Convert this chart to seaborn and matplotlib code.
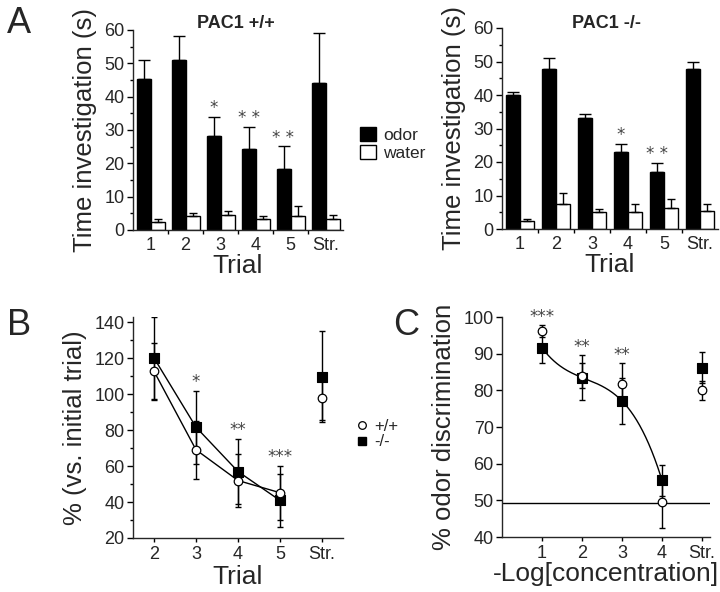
import numpy as np
import pandas as pd
import seaborn as sns
import matplotlib.pyplot as plt
from matplotlib.patches import Patch
from matplotlib.lines import Line2D
from matplotlib.ticker import MultipleLocator, FixedLocator

# ---- data ----
trials_a = ["1", "2", "3", "4", "5", "Str."]
stims = ["odor", "water"]

wt_odor = [45.2, 51.0, 28.2, 24.2, 18.2, 44.2]
wt_odor_err = [5.8, 7.2, 5.8, 6.8, 7.0, 14.8]
wt_water = [2.5, 4.2, 4.5, 3.2, 4.2, 3.2]
wt_water_err = [0.7, 0.8, 1.3, 1.0, 3.0, 1.3]
wt_stars = ["", "", "*", "* *", "* *", ""]

ko_odor = [40.1, 47.9, 33.1, 23.0, 17.0, 47.9]
ko_odor_err = [0.8, 3.0, 1.2, 2.5, 2.8, 2.1]
ko_water = [2.3, 7.6, 5.0, 5.0, 6.3, 5.5]
ko_water_err = [0.8, 3.0, 1.1, 2.6, 2.8, 2.0]
ko_stars = ["", "", "", "*", "* *", ""]

trials_b = ["2", "3", "4", "5", "Str."]
b_wt = [112.8, 69.1, 52.0, 45.2, 98.0]
b_wt_err = [16.0, 16.0, 15.0, 15.0, 12.5]
b_ko = [120.2, 81.7, 57.0, 40.9, 109.8]
b_ko_err = [23.0, 20.3, 18.2, 14.8, 25.2]
b_stars = ["", "*", "**", "***", ""]

conc_labels = ["1", "2", "3", "4", "Str."]
c_wt = [96.2, 84.0, 81.7, 49.5, 80.0]
c_wt_err = [1.6, 3.4, 5.7, 7.0, 2.6]
c_ko = [91.6, 83.5, 77.1, 55.5, 86.2]
c_ko_err = [4.1, 6.2, 6.4, 4.2, 4.2]
c_stars = ["***", "**", "**", "", ""]
chance_level = 49.3

# ---- style ----
sns.set_style("ticks")
plt.rcParams["font.family"] = ["Liberation Sans", "DejaVu Sans"]
plt.rcParams["axes.linewidth"] = 1.0
YLABEL_SIZE = 18.5
XLABEL_SIZE = 19
TICK_SIZE = 13
STAR_KW = dict(family="DejaVu Sans", fontsize=12, color="#444444", ha="center", va="baseline")

fig = plt.figure(figsize=(7.2, 5.92), dpi=100)
W, H = 720.0, 592.0


def px_axes(left, top, right, bottom):
    return fig.add_axes([left / W, 1 - bottom / H, (right - left) / W, (bottom - top) / H])


def style_axes(ax):
    sns.despine(ax=ax)
    ax.tick_params(axis="both", which="major", labelsize=TICK_SIZE, length=4, width=1,
                   color="black", pad=2)
    ax.tick_params(axis="both", which="minor", length=2, width=1, color="black")


def bar_panel(ax, odor, odor_err, water, water_err, stars, title, title_x):
    df = pd.DataFrame({
        "trial": trials_a * 2,
        "stim": ["odor"] * len(trials_a) + ["water"] * len(trials_a),
        "time": odor + water,
    })
    sns.barplot(data=df, x="trial", y="time", hue="stim", order=trials_a, hue_order=stims,
                palette={"odor": "black", "water": "white"}, edgecolor="black",
                linewidth=1, saturation=1, errorbar=None, legend=False, ax=ax)
    for cont, errs, cap in zip(ax.containers, [odor_err, water_err], [4.3, 2.6]):
        for bar, e in zip(cont, errs):
            x = bar.get_x() + bar.get_width() / 2
            y = bar.get_height()
            ax.errorbar(x, y, yerr=[[0], [e]], fmt="none", ecolor="black",
                        elinewidth=1, capsize=cap, capthick=1, zorder=1)
    for bar, e, s in zip(ax.containers[0], odor_err, stars):
        if s:
            ax.annotate(s, (bar.get_x() + bar.get_width() / 2, bar.get_height() + e),
                        xytext=(0, 2.5), textcoords="offset points", **STAR_KW)
    ax.set_ylim(0, 60)
    ax.set_xlim(-0.5, len(trials_a) - 0.5)
    ax.yaxis.set_major_locator(MultipleLocator(10))
    ax.yaxis.set_minor_locator(MultipleLocator(5))
    ax.xaxis.set_minor_locator(FixedLocator(np.arange(len(trials_a) - 1) + 0.5))
    style_axes(ax)
    ax.tick_params(axis="x", which="major", length=0, pad=5)
    ax.tick_params(axis="x", which="minor", length=3)
    ax.set_xlabel("Trial", labelpad=0, fontsize=XLABEL_SIZE)
    ax.set_ylabel("Time investigation (s)", labelpad=5, fontsize=YLABEL_SIZE)
    fig.text(title_x / W, 1 - 28 / H, title, ha="center", va="baseline",
             fontsize=13, fontweight="bold")


ax_a1 = px_axes(133, 30, 343, 230)
bar_panel(ax_a1, wt_odor, wt_odor_err, wt_water, wt_water_err, wt_stars, "PAC1 +/+", 236)
ax_a2 = px_axes(502, 28, 718, 229)
bar_panel(ax_a2, ko_odor, ko_odor_err, ko_water, ko_water_err, ko_stars, "PAC1 -/-", 607)

fig.legend(handles=[Patch(facecolor="black", edgecolor="black", lw=1),
                    Patch(facecolor="white", edgecolor="black", lw=1)],
           labels=stims, loc="upper left", bbox_to_anchor=(360 / W, 1 - 127 / H),
           frameon=False, fontsize=12.5, handlelength=0.9, handleheight=0.9,
           handletextpad=0.45, labelspacing=0.1, borderpad=0, borderaxespad=0)


def point_panel(ax, x, wt, wt_err, ko, ko_err):
    ax.errorbar(x, ko, yerr=ko_err, fmt="none", ecolor="black", elinewidth=1,
                capsize=2.2, capthick=1, zorder=2)
    ax.errorbar(x, wt, yerr=wt_err, fmt="none", ecolor="black", elinewidth=1,
                capsize=2.2, capthick=1, zorder=2)
    sns.scatterplot(x=x, y=ko, marker="s", s=42, color="black", edgecolor="black",
                    linewidth=0.8, zorder=4, ax=ax)
    sns.scatterplot(x=x, y=wt, marker="o", s=38, color="white", edgecolor="black",
                    linewidth=0.9, zorder=5, ax=ax)


# ---- panel B ----
ax_b = px_axes(133, 317, 343, 538)
xb = np.arange(len(trials_b))
sns.lineplot(x=xb[:4], y=b_wt[:4], color="black", lw=1, ax=ax_b, zorder=3)
sns.lineplot(x=xb[:4], y=b_ko[:4], color="black", lw=1, ax=ax_b, zorder=3)
point_panel(ax_b, xb, b_wt, b_wt_err, b_ko, b_ko_err)
for xi, s, a, ea, b, eb in zip(xb, b_stars, b_wt, b_wt_err, b_ko, b_ko_err):
    if s:
        ax_b.annotate(s, (xi, max(a + ea, b + eb)), xytext=(0, 3),
                      textcoords="offset points", **STAR_KW)
ax_b.set_xlim(-0.5, len(trials_b) - 0.5)
ax_b.set_ylim(20, 143)
ax_b.set_xticks(xb, trials_b)
ax_b.yaxis.set_major_locator(FixedLocator(np.arange(20, 141, 20)))
ax_b.yaxis.set_minor_locator(FixedLocator(np.arange(30, 141, 20)))
style_axes(ax_b)
ax_b.tick_params(axis="x", which="major", length=3, pad=3)
ax_b.set_xlabel("Trial", labelpad=1, fontsize=XLABEL_SIZE)
ax_b.set_ylabel("% (vs. initial trial)", labelpad=5, fontsize=YLABEL_SIZE)

# ---- panel C ----
ax_c = px_axes(502, 317, 710, 537)
xc = np.arange(1, len(conc_labels) + 1)
ax_c.axhline(chance_level, color="black", lw=1, zorder=1)
# smooth fit through the -/- dilution series
coef = np.polyfit(xc[:4], c_ko[:4], 3)
xfit = np.linspace(xc[0], xc[3], 200)
sns.lineplot(x=xfit, y=np.polyval(coef, xfit), color="black", lw=1, ax=ax_c, zorder=3)
point_panel(ax_c, xc, c_wt, c_wt_err, c_ko, c_ko_err)
for xi, s, a, ea, b, eb in zip(xc, c_stars, c_wt, c_wt_err, c_ko, c_ko_err):
    if s:
        ax_c.annotate(s, (xi, max(a + ea, b + eb)), xytext=(0, 2),
                      textcoords="offset points", annotation_clip=False, **STAR_KW)
ax_c.set_xlim(0, 5.2)
ax_c.set_ylim(40, 100)
ax_c.set_xticks(xc, conc_labels)
ax_c.yaxis.set_major_locator(MultipleLocator(10))
style_axes(ax_c)
ax_c.tick_params(axis="x", which="major", length=3, pad=3)
ax_c.set_xlabel("-Log[concentration]", labelpad=0, fontsize=XLABEL_SIZE)
ax_c.set_ylabel("% odor discrimination", labelpad=5, fontsize=YLABEL_SIZE)

fig.legend(handles=[Line2D([], [], marker="o", ls="none", mfc="white", mec="black", ms=5.5, mew=0.9),
                    Line2D([], [], marker="s", ls="none", mfc="black", mec="black", ms=5.5)],
           labels=["+/+", "-/-"], loc="center left", bbox_to_anchor=(357 / W, 1 - 434 / H),
           frameon=False, fontsize=12, handlelength=0.6, handletextpad=0.45,
           labelspacing=0.05, borderpad=0, borderaxespad=0)

# ---- panel letters ----
for letter, x, y in [("A", 7, 33), ("B", 7, 335), ("C", 393, 335)]:
    fig.text(x / W, 1 - y / H, letter, fontsize=26, ha="left", va="baseline")

fig.savefig("out.png", dpi=100)
